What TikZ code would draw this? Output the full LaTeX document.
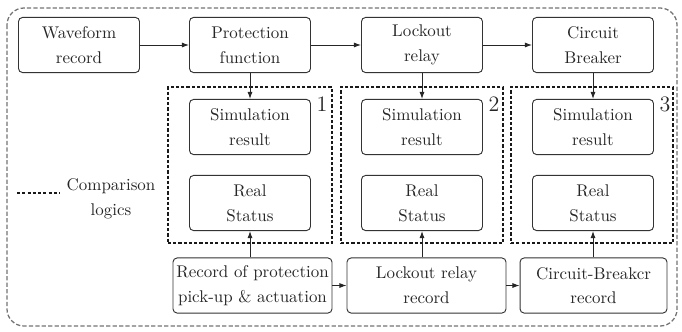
\documentclass[tikz,border=0pt]{standalone}
\usetikzlibrary{arrows.meta}
\begin{document}
\begin{tikzpicture}[x=0.59pt,y=-0.59pt,
  every node/.style={font=\fontsize{10}{14.6}\selectfont, text=black!85},
  block/.style={draw=black!80, line width=0.55pt, rounded corners=2.4pt, align=center,
    minimum width=71.4pt, minimum height=32.5pt, inner sep=0.5pt},
  wideblock/.style={block, minimum width=93.8pt},
  cmpline/.style={draw=black!90, line width=0.7pt, dash pattern=on 1.9pt off 1.2pt},
  cmpbox/.style={cmpline, minimum height=92pt, inner sep=0pt},
  numlabel/.style={font=\fontsize{13}{15}\selectfont, inner sep=0pt},
  flow/.style={-{Latex[length=4.2pt,width=3pt]}, line width=0.55pt, draw=black!85}]
\useasboundingbox (0,0) rectangle (682,331);
% outer frame
\draw[black!55, line width=0.75pt, dash pattern=on 2.5pt off 1.3pt, rounded corners=10pt]
  (7,8) rectangle (677,326);

% comparison groups
\node[cmpbox, minimum width=96.8pt] (g1) at (250,165) {};
\node[cmpbox, minimum width=95.6pt] (g2) at (422,165) {};
\node[cmpbox, minimum width=95.6pt] (g3) at (592,165) {};
\node[numlabel] (n1) at (322,104) {1};
\node[numlabel] (n2) at (494,104) {2};
\node[numlabel] (n3) at (665,104) {3};

% top row
\node[block] (wf) at (79,45) {Waveform\\record};
\node[block] (pf) at (250,45) {Protection\\function};
\node[block] (lr) at (422,45) {Lockout\\relay};
\node[block] (cb) at (593,45) {Circuit\\Breaker};

% simulation and status boxes
\node[block] (s1) at (250,127) {Simulation\\result};
\node[block] (s2) at (422,127) {Simulation\\result};
\node[block] (s3) at (593,127) {Simulation\\result};
\node[block] (r1) at (250,203) {Real\\Status};
\node[block] (r2) at (422,203) {Real\\Status};
\node[block] (r3) at (593,203) {Real\\Status};

% record row
\node[wideblock] (rp) at (252.5,285.5) {Record of protection\\pick-up \& actuation};
\node[wideblock] (rl) at (426.5,285.5) {Lockout relay\\record};
\node[wideblock, minimum width=86.7pt] (rc) at (593.5,285.5) {Circuit-Breakcr\\record};

% legend
\coordinate (la) at (17,193);
\coordinate (lb) at (60,193);
\draw[cmpline] (la) -- (lb);
\node[align=center, inner sep=0pt] (leg) at (111,199) {Comparison\\logics};

% connectors
\draw[flow] (wf) -- (pf);
\draw[flow] (pf) -- (lr);
\draw[flow] (lr) -- (cb);
\draw[flow] (pf) -- (s1);
\draw[flow] (lr) -- (s2);
\draw[flow] (cb) -- (s3);
\draw[flow] (r1 |- rp.north) -- (r1.south);
\draw[flow] (r2 |- rl.north) -- (r2.south);
\draw[flow] (r3 |- rc.north) -- (r3.south);
\draw[flow] (rp) -- (rl);
\draw[flow] (rl) -- (rc);
\end{tikzpicture}
\end{document}
